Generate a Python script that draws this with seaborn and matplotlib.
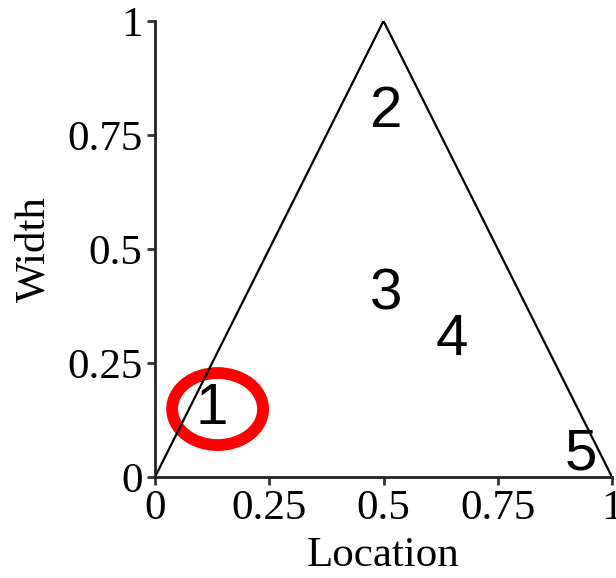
import matplotlib
matplotlib.use("Agg")
import matplotlib.pyplot as plt
import seaborn as sns
import pandas as pd
from matplotlib.patches import Ellipse

# triangle outline
tri_x = [0, 0.5, 1]
tri_y = [0, 1, 0]

# region labels
label_text = ["1", "2", "3", "4", "5"]
label_x = [0.125, 0.504, 0.505, 0.65, 0.932]
label_y = [0.149, 0.80, 0.40, 0.30, 0.05]

# highlighted region
circle_x, circle_y = 0.137, 0.149
circle_w, circle_h = 0.199, 0.158

ticks = [0, 0.25, 0.5, 0.75, 1]
tick_labels = ["0", "0.25", "0.5", "0.75", "1"]

sns.set_style("ticks")
plt.rcParams['font.family'] = ['Liberation Serif', 'DejaVu Serif']
plt.rcParams['text.color'] = 'black'
plt.rcParams['xtick.labelcolor'] = 'black'
plt.rcParams['ytick.labelcolor'] = 'black'
plt.rcParams['axes.labelcolor'] = 'black'

fig = plt.figure(figsize=(6.16, 5.78), dpi=100)
ax = fig.add_axes([155 / 616, 101 / 578, 457 / 616, 456 / 578])

df = pd.DataFrame({"x": tri_x, "y": tri_y})
sns.lineplot(data=df, x="x", y="y", sort=False, color="black", linewidth=1.6, ax=ax)

for t, x, y in zip(label_text, label_x, label_y):
    ax.text(x, y, t, ha="center", va="center", fontsize=42,
            family=["Liberation Sans", "DejaVu Sans"], color="black")

ax.add_patch(Ellipse((circle_x, circle_y), circle_w, circle_h, fill=False,
                     edgecolor="#ff0000", linewidth=8.5))

ax.set_xlim(0, 1)
ax.set_ylim(0, 1)
ax.set_xticks(ticks)
ax.set_xticklabels(tick_labels)
ax.set_yticks(ticks)
ax.set_yticklabels(tick_labels)
ax.set_xlabel("Location", fontsize=31, labelpad=6)
ax.set_ylabel("Width", fontsize=31, labelpad=10)
ax.tick_params(labelsize=31, length=6, width=2, color="#333333", pad=3)
sns.despine(ax=ax)
for s in ["left", "bottom"]:
    ax.spines[s].set_linewidth(2)
    ax.spines[s].set_color("#222222")

fig.savefig("out.png", dpi=100)
